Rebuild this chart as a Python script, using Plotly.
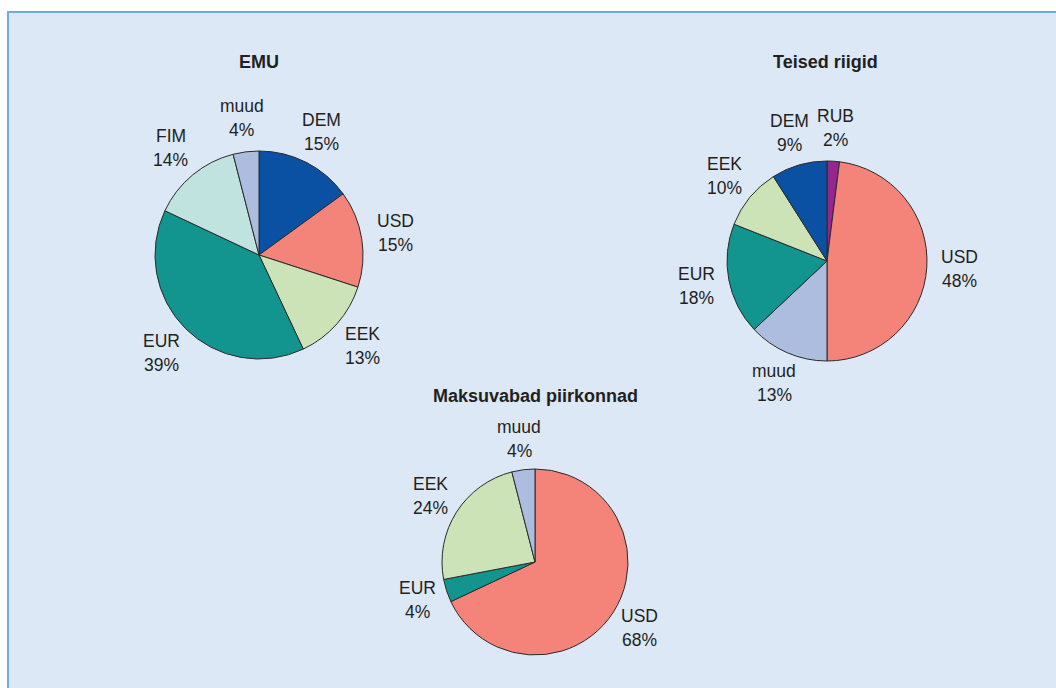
import math
import plotly.graph_objects as go

W, H = 1056, 688

# ---- data ----
emu_labels = ["DEM", "USD", "EEK", "EUR", "FIM", "muud"]
emu_values = [15, 15, 13, 39, 14, 4]

teised_labels = ["RUB", "USD", "muud", "EUR", "EEK", "DEM"]
teised_values = [2, 48, 13, 18, 10, 9]

maks_labels = ["USD", "EUR", "EEK", "muud"]
maks_values = [68, 4, 24, 4]

colors = {
    "DEM": "#0a50a3",
    "USD": "#f4837a",
    "EEK": "#cce3b8",
    "EUR": "#12958f",
    "FIM": "#c0e3e0",
    "muud": "#adbde0",
    "RUB": "#93278f",
}

TEXT = "#231f20"
FONT = "Liberation Sans, Arial, sans-serif"

# pie geometry in pixels: (center x, center y, radius)
pies = [
    ("EMU", emu_labels, emu_values, (259, 255, 104), (259, 62)),
    ("Teised riigid", teised_labels, teised_values, (827, 261, 100), (825, 62)),
    ("Maksuvabad piirkonnad", maks_labels, maks_values, (535, 562, 93), (535, 396)),
]

fig = go.Figure()
annotations = []
LABEL_FACTOR = 1.33
LINE_GAP = 12

for title, labels, values, (cx, cy, r), (tx, ty) in pies:
    fig.add_trace(go.Pie(
        labels=labels,
        values=values,
        sort=False,
        direction="clockwise",
        rotation=0,
        textinfo="none",
        hoverinfo="label+percent",
        showlegend=False,
        marker=dict(colors=[colors[l] for l in labels],
                    line=dict(color="#2b2b2b", width=1)),
        domain=dict(x=[(cx - r) / W, (cx + r) / W],
                    y=[1 - (cy + r) / H, 1 - (cy - r) / H]),
    ))
    total = sum(values)
    cum = 0
    for lab, v in zip(labels, values):
        mid = (cum + v / 2) / total * 2 * math.pi
        cum += v
        px = cx + LABEL_FACTOR * r * math.sin(mid)
        py = cy - LABEL_FACTOR * r * math.cos(mid)
        for txt, dy in ((lab, -LINE_GAP), (f"{v}%", LINE_GAP)):
            annotations.append(dict(
                x=px / W, y=1 - (py + dy) / H, xref="paper", yref="paper",
                text=txt, showarrow=False,
                xanchor="center", yanchor="middle",
                font=dict(family=FONT, size=17.5, color=TEXT),
            ))
    annotations.append(dict(
        x=tx / W, y=1 - ty / H, xref="paper", yref="paper",
        text=f"<b>{title}</b>", showarrow=False,
        xanchor="center", yanchor="middle",
        font=dict(family=FONT, size=18, color=TEXT),
    ))

fig.update_layout(
    width=W, height=H,
    margin=dict(l=0, r=0, t=0, b=0),
    paper_bgcolor="white",
    plot_bgcolor="white",
    annotations=annotations,
    shapes=[dict(type="rect", xref="paper", yref="paper",
                 x0=8 / W, x1=1.02, y0=-0.02, y1=1 - 12 / H,
                 fillcolor="#dce8f6", line=dict(color="#6aaee0", width=2),
                 layer="below")],
)

fig.write_html("out.html", config={"displayModeBar": False},
               post_script="document.body.style.margin='0';")
